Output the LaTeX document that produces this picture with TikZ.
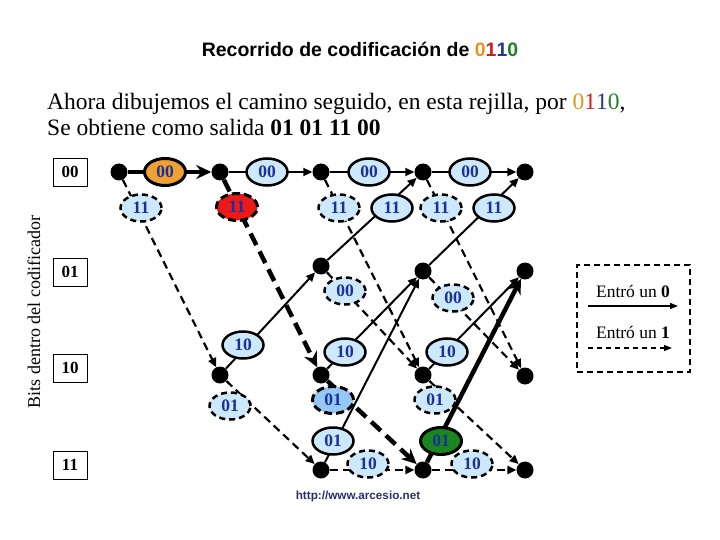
\documentclass[tikz,border=0pt]{standalone}
\usepackage{fontspec}
\setmainfont{Liberation Serif}
\setsansfont{Liberation Sans}
\usetikzlibrary{arrows.meta, shapes.geometric}
\definecolor{lblblue}{RGB}{205,232,250}
\definecolor{lbltext}{RGB}{25,50,150}
\definecolor{walkorange}{RGB}{240,160,50}
\definecolor{walkred}{RGB}{235,25,25}
\definecolor{walkblue}{RGB}{150,200,245}
\definecolor{walkgreen}{RGB}{25,135,30}
\definecolor{digorange}{RGB}{225,150,30}
\definecolor{digred}{RGB}{205,30,30}
\definecolor{digblue}{RGB}{30,55,160}
\definecolor{diggreen}{RGB}{30,130,40}
\definecolor{urlnavy}{RGB}{45,45,110}

\begin{document}
\begin{tikzpicture}[x=1pt, y=-1pt,
    dotnode/.style={circle, fill=black, inner sep=0pt, minimum size=17pt},
    statebox/.style={draw, line width=0.8pt, minimum width=34pt, minimum height=28pt,
        inner sep=0pt, font=\fontsize{17}{17}\selectfont\bfseries},
    lbl/.style={ellipse, draw, fill=lblblue, line width=2.5pt, minimum width=41pt,
        minimum height=27pt, inner sep=0pt, text=lbltext, font=\fontsize{17.5}{17.5}\selectfont\bfseries},
    lblzero/.style={lbl},
    lblone/.style={lbl, dash pattern=on 6pt off 4pt},
    inzero/.style={line width=2pt, -{Triangle[length=9pt,width=8pt]}},
    inone/.style={line width=2.2pt, dash pattern=on 8pt off 5pt, -{Triangle[length=9pt,width=8pt]}},
    walkzero/.style={line width=4.5pt, -{Stealth[length=15pt,width=14pt]}},
    walkone/.style={walkzero, dash pattern=on 13pt off 7pt}
]
    \useasboundingbox (0,0) rectangle (720,540);

    % textos
    \node[font=\fontsize{19.5}{22}\selectfont\sffamily\bfseries] (title) at (360,49)
        {Recorrido de codificación de \textcolor{digorange}{0}\textcolor{digred}{1}\textcolor{digblue}{1}\textcolor{diggreen}{0}};
    \node[anchor=north west, align=left, inner sep=0pt, font=\fontsize{23.5}{26}\selectfont] (intro) at (47,93)
        {Ahora dibujemos el camino seguido, en esta rejilla, por \textcolor{digorange}{0}\textcolor{digred}{1}\textcolor{digblue}{1}\textcolor{diggreen}{0},\\
         Se obtiene como salida \textbf{01 01 11 00}};
    \node[rotate=90, font=\fontsize{18}{18}\selectfont] (axis) at (34,312) {Bits dentro del codificador};
    \node[font=\fontsize{11.7}{12}\selectfont\sffamily\bfseries, text=urlnavy] (url) at (358,496)
        {http://www.arcesio.net};

    % estados
    \node[statebox] (st00) at (70,172) {00};
    \node[statebox] (st01) at (70,272) {01};
    \node[statebox] (st10) at (70,368) {10};
    \node[statebox] (st11) at (70,465) {11};

    % puntos de la rejilla
    \node[dotnode] (s00-0) at (119,172) {};
    \node[dotnode] (s00-1) at (220,172) {};
    \node[dotnode] (s10-1) at (220,375) {};
    \node[dotnode] (s00-2) at (321,172) {};
    \node[dotnode] (s01-2) at (321,266) {};
    \node[dotnode] (s10-2) at (321,375) {};
    \node[dotnode] (s11-2) at (321,470) {};
    \node[dotnode] (s00-3) at (423,172) {};
    \node[dotnode] (s01-3) at (423,271) {};
    \node[dotnode] (s10-3) at (423,375) {};
    \node[dotnode] (s11-3) at (423,470) {};
    \node[dotnode] (s00-4) at (525,172) {};
    \node[dotnode] (s01-4) at (525,271) {};
    \node[dotnode] (s10-4) at (525,376) {};
    \node[dotnode] (s11-4) at (525,470) {};

    % transiciones
    \draw[walkzero] (s00-0) -- (s00-1);
    \draw[inone] (s00-0) -- (s10-1);

    \draw[inzero] (s00-1) -- (s00-2);
    \draw[walkone] (s00-1) -- (s10-2);
    \draw[inzero] (s10-1) -- (s01-2);
    \draw[inone] (s10-1) -- (s11-2);

    \draw[inzero] (s00-2) -- (s00-3);
    \draw[inone] (s00-2) -- (s10-3);
    \draw[inzero] (s01-2) -- (s00-3);
    \draw[inone] (s01-2) -- (s10-3);
    \draw[inzero] (s10-2) -- (s01-3);
    \draw[walkone] (s10-2) -- (s11-3);
    \draw[inzero] (s11-2) -- (s01-3);
    \draw[inone] (s11-2) -- (s11-3);

    \draw[inzero] (s00-3) -- (s00-4);
    \draw[inone] (s00-3) -- (s10-4);
    \draw[inzero] (s01-3) -- (s00-4);
    \draw[inone] (s01-3) -- (s10-4);
    \draw[inzero] (s10-3) -- (s01-4);
    \draw[inone] (s10-3) -- (s11-4);
    \draw[walkzero] (s11-3) -- (s01-4);
    \draw[inone] (s11-3) -- (s11-4);

    % salidas
    \node[lblzero, fill=walkorange, line width=3pt] (o00-0) at (165,172) {00};
    \node[lblone] (o11-0) at (141,208) {11};

    \node[lblzero] (o00-1) at (267,172) {00};
    \node[lblone, fill=walkred, line width=3pt, dash pattern=on 8pt off 4pt] (o11-1) at (237,207) {11};
    \node[lblzero] (o10-1) at (243,345) {10};
    \node[lblone] (o01-1) at (230,406) {01};

    \node[lblzero] (o00-2) at (369,172) {00};
    \node[lblone] (o11a-2) at (339,208) {11};
    \node[lblzero] (o11b-2) at (392,208) {11};
    \node[lblone] (o00b-2) at (345,291) {00};
    \node[lblzero] (o10-2) at (345,352) {10};
    \node[lblone, fill=walkblue, line width=3pt, dash pattern=on 8pt off 4pt] (o01a-2) at (333,400) {01};
    \node[lblzero] (o01b-2) at (333,441) {01};
    \node[lblone] (o10b-2) at (368,464) {10};

    \node[lblzero] (o00-3) at (470,172) {00};
    \node[lblone] (o11a-3) at (441,208) {11};
    \node[lblzero] (o11b-3) at (494,208) {11};
    \node[lblone] (o00b-3) at (453,298) {00};
    \node[lblzero] (o10-3) at (447,352) {10};
    \node[lblone] (o01a-3) at (435,400) {01};
    \node[lblzero, fill=walkgreen, line width=3pt] (o01b-3) at (441,441) {01};
    \node[lblone] (o10b-3) at (472,464) {10};

    % leyenda
    \node[draw, line width=2.5pt, dash pattern=on 6pt off 4pt, minimum width=113pt,
        minimum height=107pt] (legend) at (633.5,318.5) {};
    \node[font=\fontsize{17.5}{18}\selectfont] (leg0) at (633,292) {Entró un \textbf{0}};
    \node[font=\fontsize{17.5}{18}\selectfont] (leg1) at (633,333) {Entró un \textbf{1}};
    \coordinate (leg0a) at (588,306);
    \coordinate (leg0b) at (678,306);
    \coordinate (leg1a) at (588,348);
    \coordinate (leg1b) at (672,348);
    \draw[line width=1.5pt, -{Triangle[length=8pt,width=6pt]}] (leg0a) -- (leg0b);
    \draw[line width=1.5pt, dash pattern=on 5pt off 4pt, -{Triangle[length=8pt,width=6pt]}] (leg1a) -- (leg1b);
\end{tikzpicture}
\end{document}
